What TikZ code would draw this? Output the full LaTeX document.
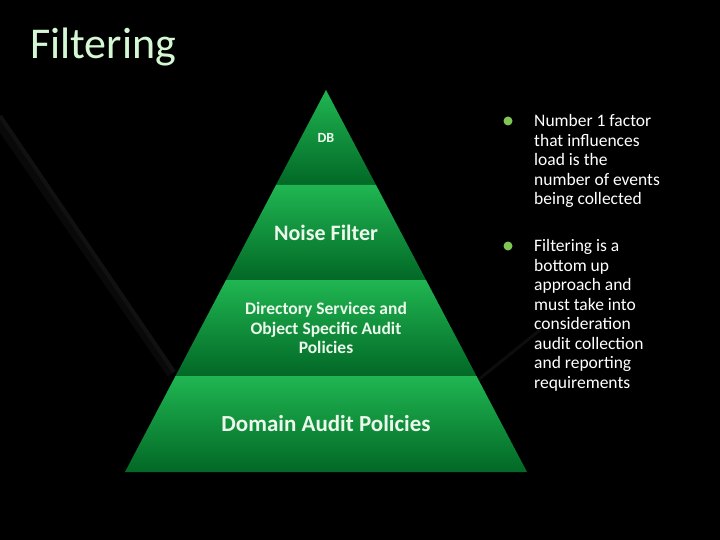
\documentclass[tikz,border=0pt]{standalone}
\usepackage{fontspec}
\setmainfont{Carlito}
\usetikzlibrary{calc, positioning}

\definecolor{bandtop}{RGB}{32,182,82}
\definecolor{bandbottom}{RGB}{2,104,38}
\definecolor{titlegreen}{RGB}{212,248,212}
\definecolor{dotgreen}{RGB}{128,198,82}
\definecolor{labelwhite}{RGB}{236,248,236}

\begin{document}
\begin{tikzpicture}[
    x=1pt, y=-1pt,
    band/.style={top color=bandtop, bottom color=bandbottom},
    bandlabel/.style={text=labelwhite, align=center, inner sep=0pt},
    bullettext/.style={text=white, font=\fontsize{17.5}{19.5}\selectfont, align=left, anchor=north west, inner sep=0pt}
]

    % 1. Fundo preto
    \useasboundingbox (0,0) rectangle (720,540);
    \fill[black] (0,0) rectangle (720,540);

    % 2. Brilhos cinzentos no fundo
    \draw[line width=10pt, gray!7!black] (-4,118) -- (172,374);
    \draw[line width=4pt, gray!13!black] (0,116) -- (174,372);
    \draw[line width=3pt, gray!10!black] (478,380) -- (540,330);

    % 3. Coordenadas da pirâmide
    \coordinate (apex) at (326,90);
    \coordinate (L1) at (276,185);  \coordinate (R1) at (376,185);
    \coordinate (L2) at (226,280);  \coordinate (R2) at (426,280);
    \coordinate (L3) at (175.5,376); \coordinate (R3) at (476.5,376);
    \coordinate (L4) at (125,472);  \coordinate (R4) at (527,472);

    % 4. Faixas com gradiente
    \shade[band] (apex) -- (R1) -- (L1) -- cycle;
    \shade[band] (L1) -- (R1) -- (R2) -- (L2) -- cycle;
    \shade[band] (L2) -- (R2) -- (R3) -- (L3) -- cycle;
    \shade[band] (L3) -- (R3) -- (R4) -- (L4) -- cycle;

    % 5. Rótulos das faixas
    \node[bandlabel, font=\bfseries\fontsize{14}{16}\selectfont] (db) at (326,138) {DB};
    \node[bandlabel, font=\bfseries\fontsize{22}{26}\selectfont] (noise) at (326,233) {Noise Filter};
    \node[bandlabel, font=\bfseries\fontsize{17.5}{19.5}\selectfont] (directory) at (326,328)
        {Directory Services and\\Object Specific Audit\\Policies};
    \node[bandlabel, font=\bfseries\fontsize{23}{27}\selectfont] (domain) at (326,424) {Domain Audit Policies};

    % 6. Título
    \node[anchor=base west, inner sep=0pt, text=titlegreen, font=\fontsize{44}{52}\selectfont] (title) at (30,59) {Filtering};

    % 7. Marcadores e texto à direita
    \fill[dotgreen] (508,121) circle (4.5);
    \fill[dotgreen] (508,246) circle (4.5);
    \node[bullettext] (factor) at (534,114.5)
        {Number 1 factor\\that influences\\load is the\\number of events\\being collected};
    \node[bullettext] (approach) at (534,239.5)
        {Filtering is a\\bottom up\\approach and\\must take into\\consideration\\audit collection\\and reporting\\requirements};

\end{tikzpicture}
\end{document}
